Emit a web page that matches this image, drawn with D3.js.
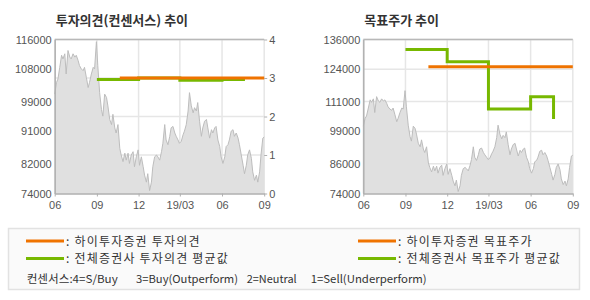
<!DOCTYPE html>
<html>
<head>
<meta charset="utf-8">
<script src="https://cdn.jsdelivr.net/npm/d3@7"></script>
<style>
  body { margin: 0; background: #fff; }
  text { font-family: "Liberation Sans", "Noto Sans CJK KR", sans-serif; }
  .kr { font-family: "Noto Sans CJK KR", sans-serif; }
</style>
</head>
<body>
<svg id="chart" width="590" height="300"></svg>
<script>
// daily-ish closing prices
const dates = [
  "2018-06-01","2018-06-05","2018-06-08","2018-06-12","2018-06-16","2018-06-19","2018-06-23","2018-06-26","2018-06-30",
  "2018-07-04","2018-07-07","2018-07-11","2018-07-15","2018-07-18","2018-07-22","2018-07-25","2018-07-29",
  "2018-08-02","2018-08-05","2018-08-09","2018-08-13","2018-08-16","2018-08-20","2018-08-24","2018-08-27","2018-08-31",
  "2018-09-03","2018-09-07","2018-09-11","2018-09-14","2018-09-18","2018-09-22","2018-09-25","2018-09-29",
  "2018-10-03","2018-10-06","2018-10-10","2018-10-13","2018-10-17","2018-10-21","2018-10-24","2018-10-28",
  "2018-11-01","2018-11-04","2018-11-08","2018-11-11","2018-11-15","2018-11-19","2018-11-22","2018-11-26","2018-11-30",
  "2018-12-03","2018-12-07","2018-12-11","2018-12-14","2018-12-18","2018-12-21","2018-12-25","2018-12-29",
  "2019-01-01","2019-01-05","2019-01-09","2019-01-12","2019-01-16","2019-01-20","2019-01-23","2019-01-27","2019-01-30",
  "2019-02-03","2019-02-07","2019-02-10","2019-02-14","2019-02-18","2019-02-21","2019-02-25","2019-02-28",
  "2019-03-04","2019-03-08","2019-03-11","2019-03-15","2019-03-19","2019-03-22","2019-03-26","2019-03-30",
  "2019-04-02","2019-04-06","2019-04-09","2019-04-13","2019-04-17","2019-04-20","2019-04-24","2019-04-28",
  "2019-05-01","2019-05-05","2019-05-09","2019-05-12","2019-05-16","2019-05-19","2019-05-23","2019-05-27","2019-05-30",
  "2019-06-03","2019-06-07","2019-06-10","2019-06-14","2019-06-17","2019-06-21","2019-06-25","2019-06-28",
  "2019-07-02","2019-07-06","2019-07-09","2019-07-13","2019-07-17","2019-07-20","2019-07-24","2019-07-27","2019-07-31",
  "2019-08-04","2019-08-07","2019-08-11","2019-08-15","2019-08-18","2019-08-22","2019-08-25","2019-08-29","2019-09-01"
];
const price = [
  101100,104300,105200,108400,111700,110700,112100,106600,113000,
  111200,110700,112100,111200,111700,110300,108900,108000,
  107500,108400,105700,102900,104300,106600,108400,108000,115400,
  108900,101500,96900,95100,101100,100200,97900,94200,
  92800,95600,91900,90500,92800,86300,84500,82700,
  85000,83100,85000,82200,84500,85400,81300,84000,85900,
  81700,84000,81300,79000,77100,79400,74800,77100,
  81300,84000,84500,84000,83100,85400,87700,92800,88600,
  87300,89600,91900,92300,90500,89600,88600,87700,
  88200,90000,91000,92800,96500,101500,97900,96000,
  97400,96500,98800,93700,89600,91900,93700,94200,
  91900,89100,91400,90500,91900,92300,88600,86800,84000,
  82200,84000,86800,87300,88600,91000,91400,89600,
  90500,89100,87300,84500,81700,79400,81700,84500,85900,
  83600,79900,77600,79000,77100,79900,84500,89100,89400
];

// investment opinion (1~4)
const hiOpinionDates = ["2018-10-21", "2019-09-01"];
const hiOpinion = [3, 3];
const avgOpinionDates = ["2018-09-01", "2018-12-01", "2019-03-01", "2019-06-01", "2019-07-21"];
const avgOpinion = [2.96, 3.0, 2.94, 2.96, 2.96];

// target price
const hiTargetDates = ["2018-10-21", "2019-09-01"];
const hiTarget = [125000, 125000];
const avgTargetDates = ["2018-09-01", "2018-12-01", "2019-03-01", "2019-06-01", "2019-07-21"];
const avgTarget = [132000, 127000, 108000, 113000, 104000];

// axis labels
const xTickDates = ["2018-06-01", "2018-09-01", "2018-12-01", "2019-03-01", "2019-06-01", "2019-09-01"];
const xTickLabels = ["06", "09", "12", "19/03", "06", "09"];
const leftPriceTicks = [74000, 82000, 91000, 99000, 108000, 116000];
const opinionTicks = [0, 1, 2, 3, 4];
const rightPriceTicks = [74000, 86000, 99000, 111000, 124000, 136000];

const parse = d3.timeParse("%Y-%m-%d");
const toPts = (ds, vs) => ds.map((d, i) => [parse(d), vs[i]]);
const pricePts = toPts(dates, price);

const ORANGE = "#ef7300";
const GREEN = "#77b800";
const svg = d3.select("#chart");

const styleAxis = a => {
  a.selectAll(".tick line").attr("stroke", "#b0b0b0");
  a.selectAll("text").attr("font-size", 11).attr("fill", "#555")
    .attr("font-family", "Liberation Sans, sans-serif");
};

const panel = ({left, title, priceDomain, priceTicks, gridTicks, gridScale, lines}) => {
  const top = 39.5, h = 154, w = 209.5;
  const g = svg.append("g").attr("transform", `translate(${left}, ${top})`);

  const x = d3.scaleTime().domain([parse("2018-06-01"), parse("2019-09-01")]).range([0, w]);
  const y = d3.scaleLinear().domain(priceDomain).range([h, 0]);
  const gy = gridScale || y;

  svg.append("text").attr("class", "kr")
    .attr("x", left + 1).attr("y", 25)
    .attr("font-size", 13).attr("font-weight", "bold").attr("fill", "#333")
    .text(title);

  // grid
  g.selectAll(".hg").data(gridTicks).join("line")
    .attr("x1", 0).attr("x2", w).attr("y1", d => gy(d)).attr("y2", d => gy(d))
    .attr("stroke", "#e6e6e6").attr("stroke-width", 1.5);
  g.selectAll(".vg").data(xTickDates).join("line")
    .attr("x1", d => x(parse(d))).attr("x2", d => x(parse(d)))
    .attr("y1", 0).attr("y2", h)
    .attr("stroke", "#e6e6e6").attr("stroke-width", 1.5);

  // price area
  g.append("path").datum(pricePts)
    .attr("fill", "#e0e0e0")
    .attr("d", d3.area().x(d => x(d[0])).y0(h).y1(d => y(d[1])));
  g.append("path").datum(pricePts)
    .attr("fill", "none").attr("stroke", "#bdbdbd").attr("stroke-width", 1)
    .attr("d", d3.line().x(d => x(d[0])).y(d => y(d[1])));

  // top frame
  g.append("line").attr("x1", 0).attr("x2", w).attr("y1", 0).attr("y2", 0)
    .attr("stroke", "#b8b8b8").attr("stroke-width", 1.5);

  // axes
  const ax = g.append("g").attr("transform", `translate(0, ${h})`)
    .call(d3.axisBottom(x).tickValues(xTickDates.map(parse))
      .tickFormat((d, i) => xTickLabels[i]).tickSize(3).tickSizeOuter(0).tickPadding(5));
  const ay = g.append("g")
    .call(d3.axisLeft(y).tickValues(priceTicks).tickFormat(d3.format("d")).tickSize(0).tickPadding(3));
  [ax, ay].forEach(a => {
    a.select(".domain").attr("stroke", "#b0b0b0").attr("stroke-width", 1.5);
    styleAxis(a);
  });
  if (gridScale) {
    const ar = g.append("g").attr("transform", `translate(${w}, 0)`)
      .call(d3.axisRight(gridScale).tickValues(opinionTicks).tickFormat(d3.format("d"))
        .tickSize(3).tickPadding(2));
    ar.select(".domain").remove();
    styleAxis(ar);
  }

  // series
  lines.forEach(l => {
    const sc = l.scale === "grid" ? gy : y;
    g.append("path").datum(toPts(l.dates, l.values))
      .attr("fill", "none").attr("stroke", l.color).attr("stroke-width", 3)
      .attr("d", d3.line().x(d => x(d[0])).y(d => sc(d[1])).curve(d3.curveStepAfter));
  });
};

panel({
  left: 54.7,
  title: "투자의견(컨센서스) 추이",
  priceDomain: [74000, 116000],
  priceTicks: leftPriceTicks,
  gridTicks: opinionTicks,
  gridScale: d3.scaleLinear().domain([0, 4]).range([154, 0]),
  lines: [
    {dates: avgOpinionDates, values: avgOpinion, color: GREEN, scale: "grid"},
    {dates: hiOpinionDates, values: hiOpinion, color: ORANGE, scale: "grid"}
  ]
});

panel({
  left: 363.3,
  title: "목표주가 추이",
  priceDomain: [74000, 136000],
  priceTicks: rightPriceTicks,
  gridTicks: rightPriceTicks,
  lines: [
    {dates: avgTargetDates, values: avgTarget, color: GREEN},
    {dates: hiTargetDates, values: hiTarget, color: ORANGE}
  ]
});

// legend
const leg = svg.append("g");
leg.append("rect").attr("x", 8.5).attr("y", 228.5).attr("width", 571).attr("height", 61)
  .attr("fill", "#fafafa").attr("stroke", "#e2e2e2").attr("stroke-width", 1.5);

const legendItems = [
  {x: 26, y: 241, color: ORANGE, label: ": 하이투자증권 투자의견"},
  {x: 26, y: 258.5, color: GREEN, label: ": 전체증권사 투자의견 평균값"},
  {x: 358, y: 241, color: ORANGE, label: ": 하이투자증권 목표주가"},
  {x: 358, y: 258.5, color: GREEN, label: ": 전체증권사 목표주가 평균값"}
];
legendItems.forEach(it => {
  leg.append("line").attr("x1", it.x).attr("x2", it.x + 38).attr("y1", it.y).attr("y2", it.y)
    .attr("stroke", it.color).attr("stroke-width", 3);
  leg.append("text").attr("class", "kr").attr("x", it.x + 40).attr("y", it.y + 4.5)
    .attr("font-size", 12).attr("letter-spacing", 1.2).attr("fill", "#333").text(it.label);
});

const consensus = [
  {x: 26.7, w: 91, t: "컨센서스:4=S/Buy"},
  {x: 136, w: 102, t: "3=Buy(Outperform)"},
  {x: 246.7, w: 50, t: "2=Neutral"},
  {x: 310.7, w: 116, t: "1=Sell(Underperform)"}
];
consensus.forEach(c => {
  leg.append("text").attr("class", "kr").attr("x", c.x).attr("y", 283)
    .attr("font-size", 11).attr("fill", "#333")
    .attr("textLength", c.w).attr("lengthAdjust", "spacingAndGlyphs")
    .text(c.t);
});
</script>
</body>
</html>
